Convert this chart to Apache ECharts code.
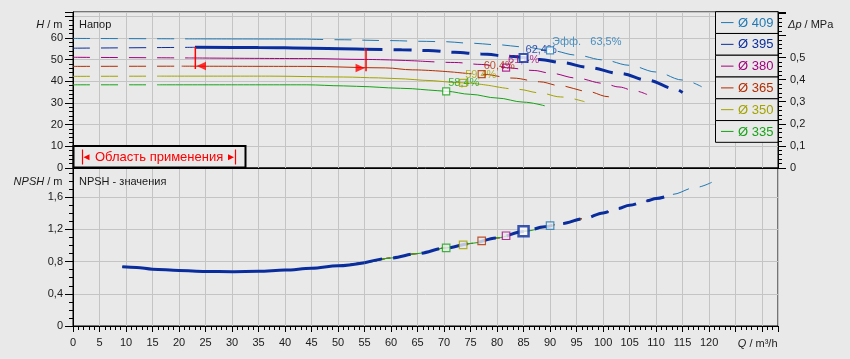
<!DOCTYPE html>
<html>
<head>
<meta charset="utf-8">
<script src="https://cdn.jsdelivr.net/npm/echarts@6.0.0/dist/echarts.min.js"></script>
<style>
html,body{margin:0;padding:0;background:#e9e9e9;}
#chart{width:850px;height:359px;}
</style>
</head>
<body>
<div id="chart"></div>
<script>
// ---------- data ----------
const diameters = ['409', '395', '380', '365', '350', '335'];
const colors = ['#1f78b4', '#0a2d9e', '#a3007f', '#b32d00', '#a3a300', '#17a317'];

// H-Q curves (Q in m³/h, H in m)
const q409 = [0, 22, 44, 50, 60, 65, 70, 75, 80, 85, 90, 95, 100, 105, 110, 115, 118.6];
const h409 = [59.8, 59.6, 59.5, 59.2, 58.8, 58.5, 58.3, 57.6, 56.9, 55.9, 54.3, 52.1, 49.9, 47.4, 44.3, 40.6, 37.5];
const q395 = [0, 23, 35, 45, 55, 62, 67, 72, 77, 82.5, 88, 92.6, 97, 103.3, 108.4, 113.5, 115];
const h395 = [55.3, 55.7, 55.6, 55.3, 54.8, 54.6, 54.2, 53.4, 52.6, 51.6, 50.1, 48.5, 46.5, 43.6, 40.5, 36.6, 34.8];
const q380 = [0, 22, 45, 55, 65, 72, 77, 81.7, 87, 90, 95, 100, 103, 106, 108.3];
const h380 = [51.1, 50.8, 50.5, 50.1, 49.4, 48.7, 47.8, 46.3, 45.0, 43.8, 41.5, 39.1, 37.4, 35.6, 33.9];
const q365 = [0, 20.5, 44, 59, 64, 72, 77.1, 83, 88, 92, 97, 101, 102.8];
const h365 = [46.9, 47.0, 46.9, 46.2, 45.3, 44.2, 43.3, 41.5, 39.8, 37.9, 35.4, 32.9, 31.8];
const q350 = [0, 16.4, 37, 51, 57.6, 62.7, 66, 73.6, 79, 84, 88, 92, 96.5];
const h350 = [42.3, 42.4, 42.4, 42.0, 41.6, 41.1, 40.5, 39.3, 37.9, 36.3, 34.7, 32.8, 30.6];
const q335 = [0, 16.4, 44, 51, 56, 59.5, 64, 67, 70.4, 75, 80, 85, 89];
const h335 = [38.4, 38.4, 38.4, 37.9, 37.5, 37.0, 36.6, 36.0, 35.4, 34.0, 32.3, 30.4, 28.7];
const solidFrom = [22, 23, 22, 20.5, 16.4, 16.4];
const solidTo = [44, 55, 65, 72, 79, 89];

// NPSH curve
const npshQ = [9.3, 12, 15, 20, 25, 30, 35, 40, 45, 50, 55, 60, 65, 70.4, 75, 80, 85, 89, 92, 96.5, 100, 102.8, 105, 108.3, 110, 113, 117.4, 120.5];
const npshV = [0.735, 0.727, 0.706, 0.69, 0.678, 0.675, 0.679, 0.695, 0.718, 0.748, 0.786, 0.845, 0.9, 0.97, 1.025, 1.095, 1.175, 1.232, 1.27, 1.335, 1.405, 1.46, 1.5, 1.555, 1.585, 1.635, 1.72, 1.785];
const npshEnd = [120.5, 113, 108.3, 102.8, 96.5, 89];
const npshSolidTo395 = 55;

// efficiency points
const effQ = [90.0, 85.0, 81.7, 77.1, 73.6, 70.4];
const effH = [54.3, 50.8, 46.3, 43.3, 39.3, 35.4];
const effNpsh = [1.246, 1.177, 1.121, 1.057, 1.008, 0.97];
const effLabels = ['Эфф.   63,5%', '62,4%', '61,4%', '60,4%', '59,4%', '58,4%'];

// application range bracket
const rangeQ = [23.08, 55.28];
const rangeTopH = [55.9, 55.1];
const rangeBotH = [45.7, 44.7];
const arrowQ = [24.2, 54.2];
const arrowH = [47.1, 46.2];

// tick labels
const qTicks = [0, 5, 10, 15, 20, 25, 30, 35, 40, 45, 50, 55, 60, 65, 70, 75, 80, 85, 90, 95, 100, 105, 110, 115, 120];
const hTicks = [0, 10, 20, 30, 40, 50, 60];
const dpTicks = [0, 0.1, 0.2, 0.3, 0.4, 0.5];
const npshTicks = [0, 0.4, 0.8, 1.2, 1.6];

// ---------- style ----------
const FONT = '"Liberation Sans", Arial, sans-serif';
const BG = '#e9e9e9', GRIDC = '#c4c4c4', INK = '#1a1a1a', RED = '#ff0000';
const DASH = [17, 11];
const hasTick = (arr, v) => arr.some(t => Math.abs(t - v) < 1e-6);
const comma = v => String(Math.round(v * 100) / 100).replace('.', ',');
const pairs = (q, v) => q.map((x, i) => [x, v[i]]);

const hQ = [q409, q395, q380, q365, q350, q335];
const hH = [h409, h395, h380, h365, h350, h335];

const series = [];
// H curves: thin first, thick 395 last
const order = [0, 2, 3, 4, 5, 1];
order.forEach(i => {
  const pts = pairs(hQ[i], hH[i]);
  const sel = diameters[i] === '395';
  const parts = [
    [pts.filter(p => p[0] <= solidFrom[i]), DASH, 1],
    [pts.filter(p => p[0] >= solidFrom[i] && p[0] <= solidTo[i]), 'solid', sel ? 3 : 1],
    [pts.filter(p => p[0] >= solidTo[i]), sel ? [18, 11] : DASH, sel ? 3 : 1]
  ];
  parts.forEach(([data, type, width]) => {
    if (data.length < 2) return;
    series.push({
      type: 'line', xAxisIndex: 0, yAxisIndex: 0, data, symbol: 'none', silent: true,
      smooth: 0.35, smoothMonotone: 'x', z: sel ? 3 : 2,
      lineStyle: { color: colors[i], width, type }
    });
  });
});

// application range bracket
[0, 1].forEach(k => {
  series.push({
    type: 'line', xAxisIndex: 0, yAxisIndex: 0, symbol: 'none', silent: true, z: 5,
    data: [[rangeQ[k], rangeTopH[k]], [rangeQ[k], rangeBotH[k]]],
    lineStyle: { color: RED, width: 1.5 }
  });
});
series.push({
  type: 'scatter', xAxisIndex: 0, yAxisIndex: 0, silent: true, z: 5,
  symbol: 'triangle', symbolSize: [8.5, 9.5],
  data: [
    { value: [arrowQ[0], arrowH[0]], symbolRotate: 90 },
    { value: [arrowQ[1], arrowH[1]], symbolRotate: -90 }
  ],
  itemStyle: { color: RED }
});

// efficiency labels (behind squares)
series.push({
  type: 'scatter', xAxisIndex: 0, yAxisIndex: 0, silent: true, z: 6,
  symbolSize: 1, itemStyle: { color: 'rgba(0,0,0,0)' },
  data: effQ.map((q, i) => ({
    name: effLabels[i], value: [q, effH[i]],
    label: { color: colors[i] }
  })),
  label: {
    show: true, formatter: '{b}', position: [2.5, -7.5], align: 'left', verticalAlign: 'middle',
    fontSize: 11, fontFamily: FONT
  }
});
// efficiency squares (top)
const topFill = ['#ffffff', '#ffffff', 'rgba(0,0,0,0)', 'rgba(0,0,0,0)', 'rgba(0,0,0,0)', '#ffffff'];
series.push({
  type: 'scatter', xAxisIndex: 0, yAxisIndex: 0, silent: true, z: 7, symbol: 'rect',
  data: effQ.map((q, i) => ({
    value: [q, effH[i]],
    symbolSize: diameters[i] === '395' ? 8 : 7,
    itemStyle: { color: topFill[i], borderColor: colors[i], borderWidth: diameters[i] === '395' ? 2 : 1.2 }
  }))
});

// NPSH curves
const npshPts = pairs(npshQ, npshV);
[0, 2, 3, 4, 5].forEach(i => {
  series.push({
    type: 'line', xAxisIndex: 1, yAxisIndex: 4, symbol: 'none', silent: true,
    smooth: 0.35, smoothMonotone: 'x', z: 2,
    data: npshPts.filter(p => p[0] <= npshEnd[i]),
    lineStyle: { color: colors[i], width: 1, type: diameters[i] === '335' ? 'solid' : DASH }
  });
});
series.push({
  type: 'line', xAxisIndex: 1, yAxisIndex: 4, symbol: 'none', silent: true,
  smooth: 0.35, smoothMonotone: 'x', z: 3,
  data: npshPts.filter(p => p[0] <= npshSolidTo395),
  lineStyle: { color: colors[1], width: 3, type: 'solid' }
});
series.push({
  type: 'line', xAxisIndex: 1, yAxisIndex: 4, symbol: 'none', silent: true,
  smooth: 0.35, smoothMonotone: 'x', z: 3,
  data: npshPts.filter(p => p[0] >= npshSolidTo395 && p[0] <= npshEnd[1]),
  lineStyle: { color: colors[1], width: 3, type: [18, 11] }
});
// efficiency squares (bottom)
series.push({
  type: 'scatter', xAxisIndex: 1, yAxisIndex: 4, silent: true, z: 7, symbol: 'rect',
  data: effQ.map((q, i) => ({
    value: [q, effNpsh[i]],
    symbolSize: diameters[i] === '395' ? 10 : 7.5,
    itemStyle: {
      color: diameters[i] === '395' ? '#ffffff' : BG,
      borderColor: colors[i], borderWidth: diameters[i] === '395' ? 2.5 : 1.2
    }
  }))
});

// ---------- graphic ----------
const txt = (x, y, text, opts = {}) => ({
  type: 'text', z: 100, silent: true,
  style: Object.assign({
    x, y, text, fill: INK, fontSize: 11, fontFamily: FONT,
    align: 'left', textAlign: 'left', verticalAlign: 'middle', textVerticalAlign: 'middle',
    rich: { i: { fontStyle: 'italic', fontSize: opts.fontSize || 11, fontFamily: FONT, fill: INK } }
  }, opts)
});
const graphic = [];
graphic.push(txt(79, 24.5, 'Напор'));
graphic.push(txt(79, 181.5, 'NPSH - значения'));
graphic.push(txt(62.5, 24.5, '{i|H} / m', { align: 'right', textAlign: 'right' }));
graphic.push(txt(62.5, 181.5, '{i|NPSH} / m', { align: 'right', textAlign: 'right' }));
graphic.push(txt(788, 24.5, '{i|Δp} / MPa'));
graphic.push(txt(777.5, 344, '{i|Q} / m³/h', { align: 'right', textAlign: 'right' }));

// legend
const rowH = 21.77;
diameters.forEach((d, i) => {
  const y0 = 11.7 + i * rowH;
  const cy = y0 + rowH / 2;
  graphic.push({ type: 'rect', z: 90, silent: true,
    shape: { x: 715.5, y: y0, width: 62.5, height: rowH },
    style: { fill: BG, stroke: '#000', lineWidth: 1 } });
  graphic.push({ type: 'line', z: 91, silent: true,
    shape: { x1: 721, y1: cy, x2: 733.5, y2: cy },
    style: { stroke: colors[i], lineWidth: 1 } });
  graphic.push(txt(738, cy + 0.5, 'Ø ' + d, { fill: colors[i], fontSize: 13 }));
});

// application range box
graphic.push({ type: 'rect', z: 90, silent: true,
  shape: { x: 73.5, y: 146, width: 172, height: 21.5 },
  style: { fill: BG, stroke: '#000', lineWidth: 2 } });
graphic.push({ type: 'line', z: 91, silent: true,
  shape: { x1: 82.5, y1: 149.5, x2: 82.5, y2: 164.5 }, style: { stroke: RED, lineWidth: 1.2 } });
graphic.push({ type: 'polygon', z: 91, silent: true,
  shape: { points: [[83.5, 157.3], [89.5, 154.3], [89.5, 160.3]] }, style: { fill: RED } });
graphic.push({ type: 'polygon', z: 91, silent: true,
  shape: { points: [[234, 157.3], [228, 154.3], [228, 160.3]] }, style: { fill: RED } });
graphic.push({ type: 'line', z: 91, silent: true,
  shape: { x1: 235.5, y1: 149.5, x2: 235.5, y2: 164.5 }, style: { stroke: RED, lineWidth: 1.2 } });
graphic.push(txt(95, 157.5, 'Область применения', { fill: RED, fontSize: 13 }));

// ---------- axes ----------
const blackLine = { show: true, lineStyle: { color: '#000', width: 1 } };
const lab = extra => Object.assign({ show: true, fontSize: 11, color: INK, fontFamily: FONT }, extra);
const minorAxis = (extra) => Object.assign({
  type: 'value', offset: 0, axisLine: { show: false }, axisLabel: { show: false },
  splitLine: { show: false }, axisTick: { show: true, length: 4, lineStyle: { color: '#000' } }
}, extra);

const option = {
  backgroundColor: BG,
  animation: false,
  textStyle: { fontFamily: FONT },
  grid: [
    { left: 73, right: 72, top: 12, height: 156, show: true, borderColor: '#000', borderWidth: 1 },
    { left: 73, right: 72, top: 168, height: 158, show: true, borderColor: '#000', borderWidth: 1 }
  ],
  xAxis: [
    { type: 'value', gridIndex: 0, min: 0, max: 133, interval: 5, position: 'bottom',
      axisLine: blackLine, axisTick: { show: false }, axisLabel: { show: false },
      splitLine: { show: true, lineStyle: { color: GRIDC, width: 1 } } },
    { type: 'value', gridIndex: 1, min: 0, max: 133, interval: 5, position: 'bottom',
      axisLine: blackLine, axisTick: { show: true, length: 6, lineStyle: { color: '#000' } },
      axisLabel: lab({ margin: 11, formatter: v => hasTick(qTicks, v) ? String(v) : '' }),
      splitLine: { show: true, lineStyle: { color: GRIDC, width: 1 } } },
    minorAxis({ gridIndex: 1, min: 0, max: 133, interval: 1, position: 'bottom' })
  ],
  yAxis: [
    { type: 'value', gridIndex: 0, min: 0, max: 72, interval: 10, position: 'left',
      axisLine: blackLine, axisTick: { show: true, length: 8, lineStyle: { color: '#000' } },
      axisLabel: lab({ margin: 10, formatter: v => hasTick(hTicks, v) ? String(v) : '' }),
      splitLine: { show: true, lineStyle: { color: GRIDC, width: 1 } } },
    minorAxis({ gridIndex: 0, min: 0, max: 72, interval: 2, position: 'left' }),
    { type: 'value', gridIndex: 0, min: 0, max: 0.7063, interval: 0.1, position: 'right',
      axisLine: blackLine, axisTick: { show: true, length: 8, lineStyle: { color: '#000' } },
      axisLabel: lab({ margin: 12, formatter: v => hasTick(dpTicks, v) ? comma(v) : '' }),
      splitLine: { show: false } },
    minorAxis({ gridIndex: 0, min: 0, max: 0.7063, interval: 0.02, position: 'right' }),
    { type: 'value', gridIndex: 1, min: 0, max: 1.963, interval: 0.4, position: 'left',
      axisLine: blackLine, axisTick: { show: true, length: 8, lineStyle: { color: '#000' } },
      axisLabel: lab({ margin: 10, formatter: v => hasTick(npshTicks, v) ? comma(v) : '' }),
      splitLine: { show: true, lineStyle: { color: GRIDC, width: 1 } } },
    minorAxis({ gridIndex: 1, min: 0, max: 1.963, interval: 0.1, position: 'left' })
  ],
  graphic: { elements: graphic },
  series
};

const chart = echarts.init(document.getElementById('chart'), null, { renderer: 'canvas' });
chart.setOption(option);
</script>
</body>
</html>
